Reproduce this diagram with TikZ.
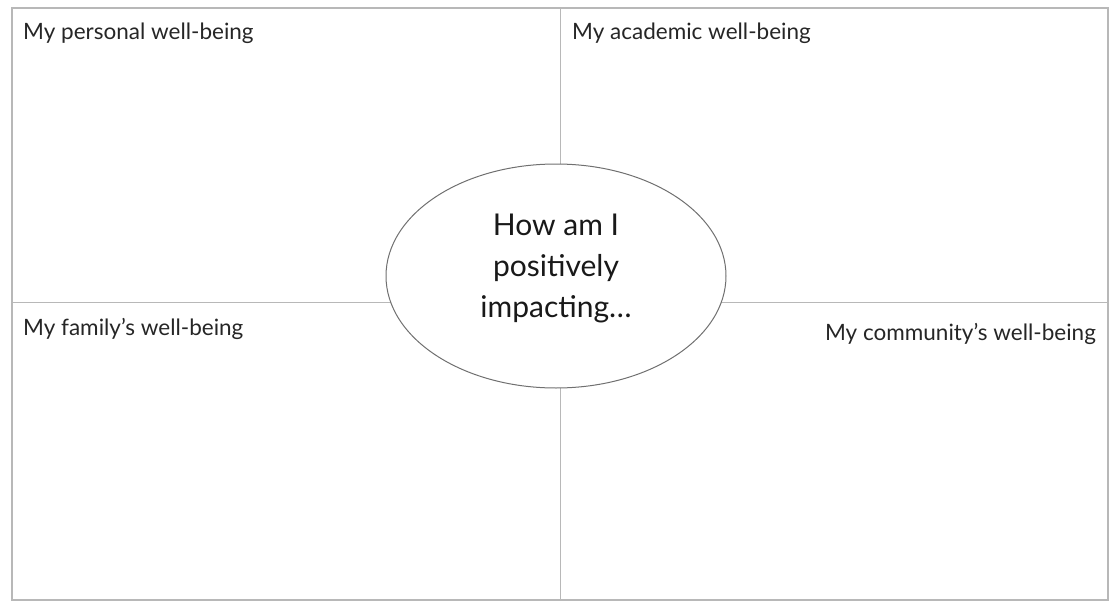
\documentclass[tikz,border=0pt]{standalone}
\usepackage{fontspec}
\setmainfont{Lato}
\usepackage{xcolor}
\usetikzlibrary{shapes.geometric}
\definecolor{gridgray}{HTML}{B8B8B8}
\definecolor{ringgray}{HTML}{707070}
\tikzset{
  quadlabel/.style={font=\fontsize{22.5}{26}\selectfont, text=black!85, inner sep=0pt},
  centerring/.style={ellipse, draw=ringgray, line width=1pt, fill=white,
    minimum width=340pt, minimum height=224pt, inner sep=0pt},
  centertext/.style={align=center, inner sep=0pt,
    font=\fontsize{30}{41}\selectfont, text=black!90}
}
\begin{document}
\begin{tikzpicture}[x=1pt,y=-1pt]
\useasboundingbox (0,0) rectangle (1120,610);

% frame and cross
\draw[gridgray, line width=1.2pt] (12,8) rectangle (1108,600);
\coordinate (top) at (560,8);
\coordinate (bottom) at (560,600);
\coordinate (left) at (12,302);
\coordinate (right) at (1108,302);
\draw[gridgray, line width=1pt] (top)--(bottom);
\draw[gridgray, line width=1pt] (left)--(right);

% centre
\node[centerring] (ring) at (556,276) {};
\node[centertext] (question) at (556,268) {How am I\\positively\\impacting\dots};

% the four corners
\node[quadlabel, anchor=west] (personal) at (23,33) {My personal well-being};
\node[quadlabel, anchor=west] (academic) at (572,33) {My academic well-being};
\node[quadlabel, anchor=west] (family) at (23,329) {My family’s well-being};
\node[quadlabel, anchor=east] (community) at (1096,334) {My community’s well-being};

\end{tikzpicture}
\end{document}
